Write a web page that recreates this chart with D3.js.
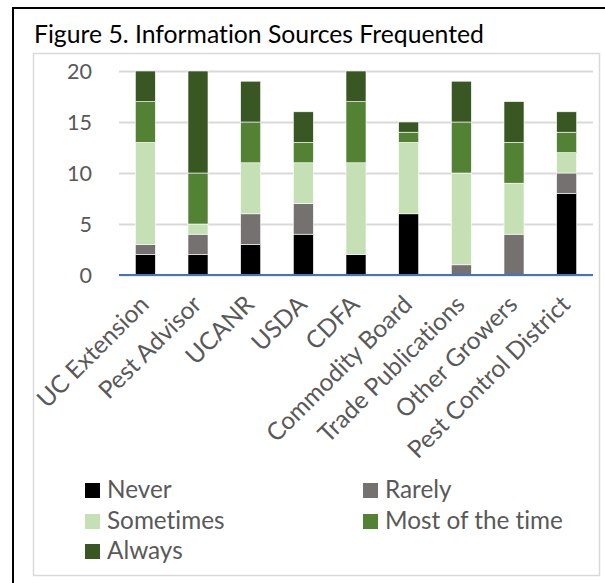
<!DOCTYPE html>
<html>
<head>
<meta charset="utf-8">
<script src="https://cdn.jsdelivr.net/npm/d3@7"></script>
<style>
  html, body { margin: 0; padding: 0; background: #fff; }
  svg { display: block; }
  text { font-family: Lato, "Open Sans", sans-serif; font-variant-ligatures: none; font-feature-settings: "liga" 0, "clig" 0; }
</style>
</head>
<body>
<svg id="chart" width="605" height="583"></svg>
<script>
// ---- data ----
const categories = ["UC Extension", "Pest Advisor", "UCANR", "USDA", "CDFA",
  "Commodity Board", "Trade Publications", "Other Growers", "Pest Control District"];
const seriesNames = ["Never", "Rarely", "Sometimes", "Most of the time", "Always"];
const never        = [2, 2, 3, 4, 2, 6, 0, 0, 8];
const rarely       = [1, 2, 3, 3, 0, 0, 1, 4, 2];
const sometimes    = [10, 1, 5, 4, 9, 7, 9, 5, 2];
const mostOfTime   = [4, 5, 4, 2, 6, 1, 5, 4, 2];
const always       = [3, 10, 4, 3, 3, 1, 4, 4, 2];
const yTicks = [0, 5, 10, 15, 20];
const titleText = "Figure 5. Information Sources Frequented";

const colors = ["#000000", "#767171", "#C5E0B4", "#548235", "#385723"];
const seriesValues = [never, rarely, sometimes, mostOfTime, always];

const table = categories.map((c, i) => {
  const row = { category: c };
  seriesNames.forEach((s, k) => row[s] = seriesValues[k][i]);
  return row;
});
const stacked = d3.stack().keys(seriesNames)(table);

const svg = d3.select("#chart");

// helper: fit font size so text width matches target
function fitSize(str, target, base) {
  const t = svg.append("text").attr("font-size", base).text(str);
  const w = t.node().getComputedTextLength();
  t.remove();
  return base * target / w;
}

// outer frame
svg.append("rect").attr("x", 13).attr("y", 8).attr("width", 640).attr("height", 640)
  .attr("fill", "none").attr("stroke", "#000").attr("stroke-width", 2);

// title
const titleSize = fitSize(titleText, 450, 20);
svg.append("text").attr("x", 34).attr("y", 43).attr("font-size", titleSize)
  .attr("fill", "#000").text(titleText);

// inner chart box
svg.append("rect").attr("x", 33.5).attr("y", 53.5).attr("width", 566).attr("height", 522)
  .attr("fill", "#fff").attr("stroke", "#D9D9D9").attr("stroke-width", 1.5);

// scales
const x = d3.scaleBand().domain(categories).range([119, 593]).paddingInner(0.62).paddingOuter(0.31);
const y = d3.scaleLinear().domain([0, 20]).range([275, 71]);

// gridlines + y tick labels
const yAxis = d3.axisLeft(y).tickValues(yTicks).tickSize(-(593 - 119)).tickPadding(27);
const tickSize = fitSize("20", 25, 20);
const gy = svg.append("g").attr("transform", "translate(119,0)").call(yAxis);
gy.select(".domain").remove();
gy.selectAll(".tick line").attr("stroke", "#D9D9D9").attr("stroke-width", 2);
gy.selectAll(".tick text").attr("font-size", tickSize).attr("fill", "#595959")
  .attr("dy", "0.35em");

// bars
svg.append("g").selectAll("g").data(stacked).join("g")
  .attr("fill", (d, i) => colors[i])
  .selectAll("rect").data(d => d).join("rect")
  .attr("x", d => x(d.data.category))
  .attr("width", x.bandwidth())
  .attr("y", d => y(d[1]))
  .attr("height", d => y(d[0]) - y(d[1]))
  .attr("stroke", "#fff").attr("stroke-width", 0.6);

// x axis line
svg.append("line").attr("x1", 119).attr("x2", 593).attr("y1", 275).attr("y2", 275)
  .attr("stroke", "#4472C4").attr("stroke-width", 2);

// x labels
const labelSize = fitSize("UC Extension", 146, 20);
svg.append("g").selectAll("text").data(categories).join("text")
  .attr("transform", d => `translate(${x(d) + x.bandwidth() / 2 + 5},306) rotate(-45)`)
  .attr("text-anchor", "end").attr("font-size", labelSize).attr("fill", "#595959")
  .text(d => d);

// legend
const legendSize = fitSize("Most of the time", 178, 20);
const legendPos = [[85, 483], [363, 483], [85, 514], [363, 514], [85, 544]];
const lg = svg.append("g").selectAll("g").data(seriesNames).join("g")
  .attr("transform", (d, i) => `translate(${legendPos[i][0]},${legendPos[i][1]})`);
lg.append("rect").attr("width", 15).attr("height", 15).attr("fill", (d, i) => colors[i]);
lg.append("text").attr("x", 22).attr("y", 15).attr("font-size", legendSize)
  .attr("fill", "#595959").text(d => d);
</script>
</body>
</html>
